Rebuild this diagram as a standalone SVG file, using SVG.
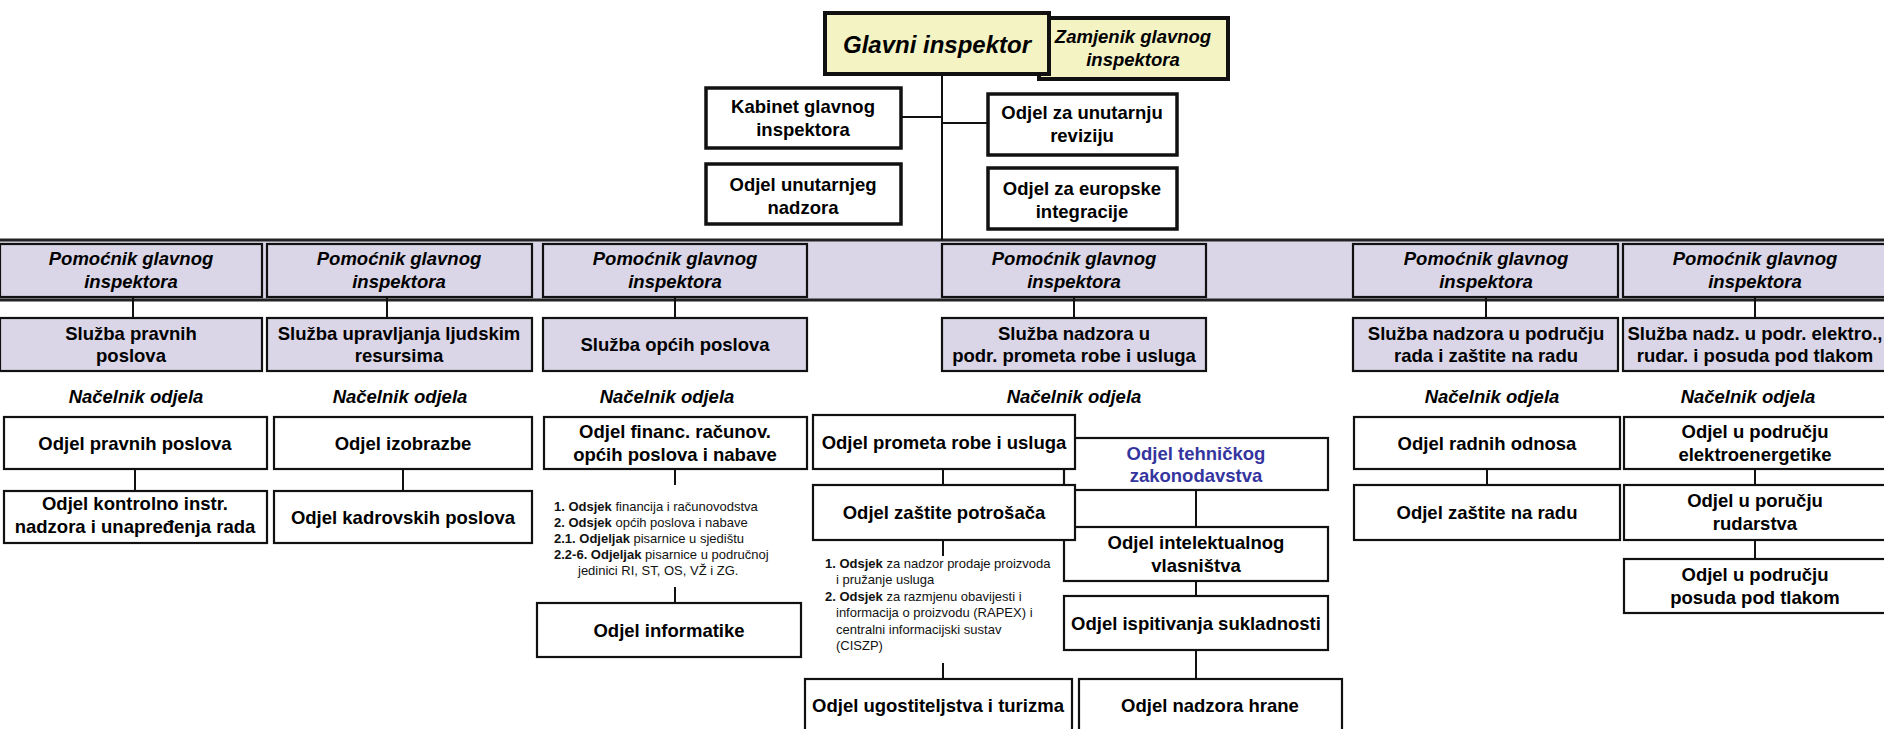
<svg xmlns="http://www.w3.org/2000/svg" width="1884" height="729" viewBox="0 0 1884 729">
<style>
.bg{fill:#ffffff}
.box{fill:#ffffff;stroke:#111;stroke-width:2.2}
.lav{fill:#DAD6E7;stroke:#111;stroke-width:2.2}
.top{fill:#ffffff;stroke:#111;stroke-width:3.5}
.yel{fill:#F3F3C4;stroke:#111;stroke-width:4}
.band{fill:#DAD6E7}
.bl{stroke:#222;stroke-width:3;fill:none}
.ln{stroke:#111;stroke-width:2;fill:none}
.t{font-family:"Liberation Sans",Arial,sans-serif;font-weight:bold;font-size:18.5px;text-anchor:middle;fill:#000}
.i{font-style:italic}
.big{font-size:24px}
.blue{fill:#3535A0}
.s{font-family:"Liberation Sans",Arial,sans-serif;font-size:13px;fill:#111}
.b{font-weight:bold}
</style>
<rect class="bg" x="0" y="0" width="1884" height="729"/>

<!-- band -->
<g id="band">
<rect class="band" x="0" y="240" width="1884" height="60"/>
<line class="bl" x1="0" y1="240" x2="1884" y2="240"/>
<line class="bl" x1="0" y1="300" x2="1884" y2="300"/>
</g>

<g id="connectors">
<line class="ln" x1="942" y1="75" x2="942" y2="240"/>
<line class="ln" x1="901" y1="117" x2="942" y2="117"/>
<line class="ln" x1="942" y1="123" x2="988" y2="123"/>
<line class="ln" x1="133" y1="297" x2="133" y2="318"/>
<line class="ln" x1="387" y1="297" x2="387" y2="318"/>
<line class="ln" x1="675" y1="297" x2="675" y2="318"/>
<line class="ln" x1="1074" y1="297" x2="1074" y2="318"/>
<line class="ln" x1="1486" y1="297" x2="1486" y2="318"/>
<line class="ln" x1="1755" y1="297" x2="1755" y2="318"/>
<line class="ln" x1="135" y1="469" x2="135" y2="491"/>
<line class="ln" x1="403" y1="469" x2="403" y2="491"/>
<line class="ln" x1="675" y1="469" x2="675" y2="485"/>
<line class="ln" x1="675" y1="587" x2="675" y2="603"/>
<line class="ln" x1="943" y1="469" x2="943" y2="485"/>
<line class="ln" x1="943" y1="540" x2="943" y2="556"/>
<line class="ln" x1="943" y1="663" x2="943" y2="679"/>
<line class="ln" x1="1196" y1="490" x2="1196" y2="527"/>
<line class="ln" x1="1196" y1="581" x2="1196" y2="596"/>
<line class="ln" x1="1196" y1="650" x2="1196" y2="679"/>
<line class="ln" x1="1487" y1="469" x2="1487" y2="485"/>
<line class="ln" x1="1755" y1="469" x2="1755" y2="485"/>
<line class="ln" x1="1755" y1="540" x2="1755" y2="559"/>
</g>

<g id="zamjenik">
<rect class="yel" x="1039" y="18" width="189" height="61"/>
<text class="t i" x="1133" y="43">Zamjenik glavnog</text>
<text class="t i" x="1133" y="66">inspektora</text>
</g>
<g id="glavni">
<rect class="yel" x="825" y="13" width="224" height="61" stroke-width="5"/>
<text class="t i big" x="937" y="53">Glavni inspektor</text>
</g>

<g id="kabinet">
<rect class="top" x="706" y="88" width="195" height="60"/>
<text class="t" x="803" y="113">Kabinet glavnog</text>
<text class="t" x="803" y="136">inspektora</text>
</g>
<g id="unutarnji-nadzor">
<rect class="top" x="706" y="164" width="195" height="60"/>
<text class="t" x="803" y="191">Odjel unutarnjeg</text>
<text class="t" x="803" y="214">nadzora</text>
</g>
<g id="revizija">
<rect class="top" x="988" y="94" width="189" height="61"/>
<text class="t" x="1082" y="119">Odjel za unutarnju</text>
<text class="t" x="1082" y="142">reviziju</text>
</g>
<g id="europske">
<rect class="top" x="988" y="168" width="189" height="61"/>
<text class="t" x="1082" y="195">Odjel za europske</text>
<text class="t" x="1082" y="218">integracije</text>
</g>

<!-- Pomocnik -->
<g id="pom1"><rect class="lav" x="0" y="244" width="262" height="53"/>
<text class="t i" x="131" y="265">Pomoćnik glavnog</text><text class="t i" x="131" y="288">inspektora</text></g>
<g id="pom2"><rect class="lav" x="267" y="244" width="265" height="53"/>
<text class="t i" x="399" y="265">Pomoćnik glavnog</text><text class="t i" x="399" y="288">inspektora</text></g>
<g id="pom3"><rect class="lav" x="543" y="244" width="264" height="53"/>
<text class="t i" x="675" y="265">Pomoćnik glavnog</text><text class="t i" x="675" y="288">inspektora</text></g>
<g id="pom4"><rect class="lav" x="942" y="244" width="264" height="53"/>
<text class="t i" x="1074" y="265">Pomoćnik glavnog</text><text class="t i" x="1074" y="288">inspektora</text></g>
<g id="pom5"><rect class="lav" x="1353" y="244" width="265" height="53"/>
<text class="t i" x="1486" y="265">Pomoćnik glavnog</text><text class="t i" x="1486" y="288">inspektora</text></g>
<g id="pom6"><rect class="lav" x="1623" y="244" width="264" height="53"/>
<text class="t i" x="1755" y="265">Pomoćnik glavnog</text><text class="t i" x="1755" y="288">inspektora</text></g>

<!-- Sluzbe -->
<g id="sl1"><rect class="lav" x="0" y="318" width="262" height="53"/>
<text class="t" x="131" y="340">Služba pravnih</text><text class="t" x="131" y="362">poslova</text></g>
<g id="sl2"><rect class="lav" x="267" y="318" width="265" height="53"/>
<text class="t" x="399" y="340">Služba upravljanja ljudskim</text><text class="t" x="399" y="362">resursima</text></g>
<g id="sl3"><rect class="lav" x="543" y="318" width="264" height="53"/>
<text class="t" x="675" y="351">Služba općih poslova</text></g>
<g id="sl4"><rect class="lav" x="942" y="318" width="264" height="53"/>
<text class="t" x="1074" y="340">Služba nadzora u</text><text class="t" x="1074" y="362">podr. prometa robe i usluga</text></g>
<g id="sl5"><rect class="lav" x="1353" y="318" width="265" height="53"/>
<text class="t" x="1486" y="340">Služba nadzora u području</text><text class="t" x="1486" y="362">rada i zaštite na radu</text></g>
<g id="sl6"><rect class="lav" x="1623" y="318" width="264" height="53"/>
<text class="t" x="1755" y="340">Služba nadz. u podr. elektro.,</text><text class="t" x="1755" y="362">rudar. i posuda pod tlakom</text></g>

<!-- Nacelnik labels -->
<g id="nacelnik">
<text class="t i" x="136" y="403">Načelnik odjela</text>
<text class="t i" x="400" y="403">Načelnik odjela</text>
<text class="t i" x="667" y="403">Načelnik odjela</text>
<text class="t i" x="1074" y="403">Načelnik odjela</text>
<text class="t i" x="1492" y="403">Načelnik odjela</text>
<text class="t i" x="1748" y="403">Načelnik odjela</text>
</g>

<!-- column A -->
<g id="a1"><rect class="box" x="4" y="417" width="263" height="52"/>
<text class="t" x="135" y="450">Odjel pravnih poslova</text></g>
<g id="a2"><rect class="box" x="4" y="491" width="263" height="52"/>
<text class="t" x="135" y="510">Odjel kontrolno instr.</text><text class="t" x="135" y="533">nadzora i unapređenja rada</text></g>
<!-- column B -->
<g id="b1"><rect class="box" x="274" y="417" width="258" height="52"/>
<text class="t" x="403" y="450">Odjel izobrazbe</text></g>
<g id="b2"><rect class="box" x="274" y="491" width="258" height="52"/>
<text class="t" x="403" y="524">Odjel kadrovskih poslova</text></g>
<!-- column C -->
<g id="c1"><rect class="box" x="544" y="417" width="263" height="52"/>
<text class="t" x="675" y="438">Odjel financ. računov.</text><text class="t" x="675" y="461">općih poslova i nabave</text></g>
<g id="c-list">
<text class="s" x="554" y="510.5"><tspan class="b">1. Odsjek</tspan> financija i računovodstva</text>
<text class="s" x="554" y="526.5"><tspan class="b">2. Odsjek</tspan> općih poslova i nabave</text>
<text class="s" x="554" y="542.5"><tspan class="b">2.1. Odjeljak</tspan> pisarnice u sjedištu</text>
<text class="s" x="554" y="558.5"><tspan class="b">2.2-6. Odjeljak</tspan> pisarnice u područnoj</text>
<text class="s" x="578" y="574.5">jedinici RI, ST, OS, VŽ i ZG.</text>
</g>
<g id="c2"><rect class="box" x="537" y="603" width="264" height="54"/>
<text class="t" x="669" y="637">Odjel informatike</text></g>

<!-- column D -->
<g id="teh"><rect class="box" x="1064" y="438" width="264" height="52"/>
<text class="t blue" x="1196" y="460">Odjel tehničkog</text><text class="t blue" x="1196" y="482">zakonodavstva</text></g>
<g id="intel"><rect class="box" x="1064" y="527" width="264" height="54"/>
<text class="t" x="1196" y="549">Odjel intelektualnog</text><text class="t" x="1196" y="572">vlasništva</text></g>
<g id="d1"><rect class="box" x="813" y="415" width="262" height="54"/>
<text class="t" x="944" y="449">Odjel prometa robe i usluga</text></g>
<g id="d2"><rect class="box" x="813" y="485" width="262" height="55"/>
<text class="t" x="944" y="519">Odjel zaštite potrošača</text></g>
<g id="d-list">
<text class="s" x="825" y="567.5"><tspan class="b">1. Odsjek</tspan> za nadzor prodaje proizvoda</text>
<text class="s" x="836" y="584">i pružanje usluga</text>
<text class="s" x="825" y="600.5"><tspan class="b">2. Odsjek</tspan> za razmjenu obavijesti i</text>
<text class="s" x="836" y="617">informacija o proizvodu (RAPEX) i</text>
<text class="s" x="836" y="633.5">centralni informacijski sustav</text>
<text class="s" x="836" y="650">(CISZP)</text>
</g>
<g id="ispit"><rect class="box" x="1064" y="596" width="264" height="54"/>
<text class="t" x="1196" y="630">Odjel ispitivanja sukladnosti</text></g>
<g id="ugost"><rect class="box" x="805" y="679" width="267" height="62"/>
<text class="t" x="938" y="712">Odjel ugostiteljstva i turizma</text></g>
<g id="hrana"><rect class="box" x="1079" y="679" width="263" height="62"/>
<text class="t" x="1210" y="712">Odjel nadzora hrane</text></g>

<!-- column E -->
<g id="e1"><rect class="box" x="1354" y="417" width="266" height="52"/>
<text class="t" x="1487" y="450">Odjel radnih odnosa</text></g>
<g id="e2"><rect class="box" x="1354" y="485" width="266" height="55"/>
<text class="t" x="1487" y="519">Odjel zaštite na radu</text></g>
<!-- column F -->
<g id="f1"><rect class="box" x="1624" y="417" width="264" height="52"/>
<text class="t" x="1755" y="438">Odjel u području</text><text class="t" x="1755" y="461">elektroenergetike</text></g>
<g id="f2"><rect class="box" x="1624" y="485" width="264" height="55"/>
<text class="t" x="1755" y="507">Odjel u poručju</text><text class="t" x="1755" y="530">rudarstva</text></g>
<g id="f3"><rect class="box" x="1624" y="559" width="264" height="54"/>
<text class="t" x="1755" y="581">Odjel u području</text><text class="t" x="1755" y="604">posuda pod tlakom</text></g>
</svg>
